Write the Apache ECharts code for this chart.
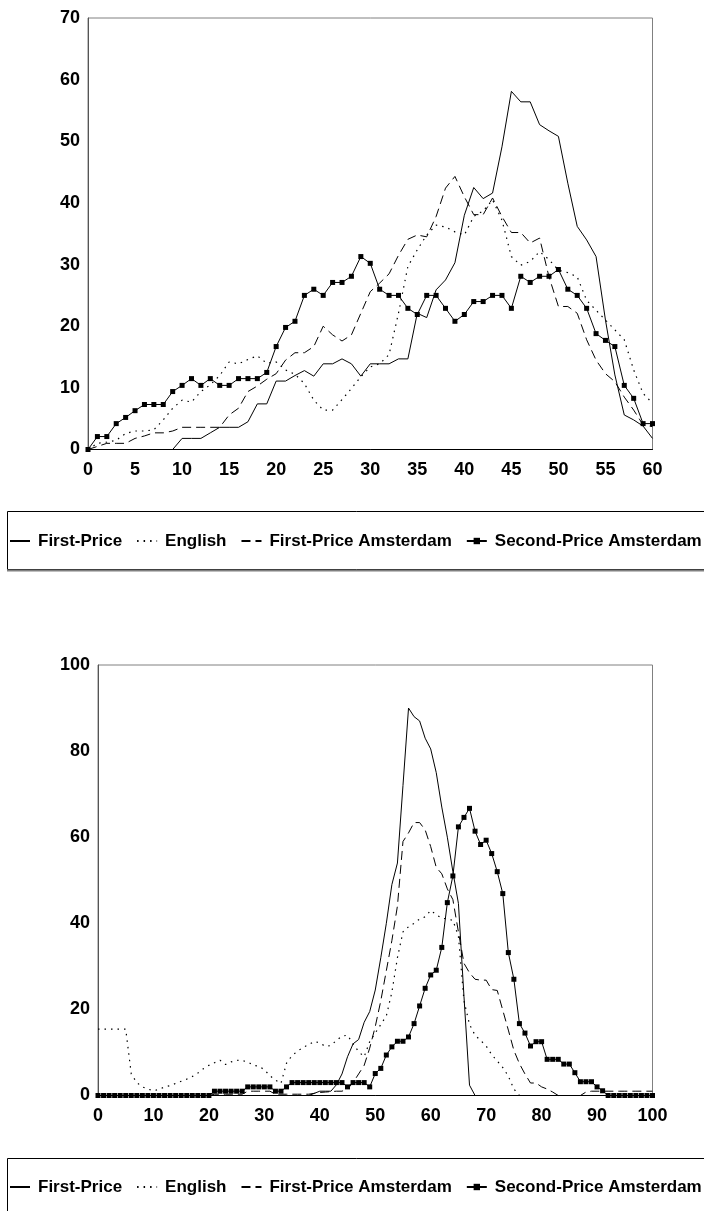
<!DOCTYPE html>
<html>
<head>
<meta charset="utf-8">
<title>Auction prices</title>
<script src="https://cdn.jsdelivr.net/npm/echarts@6.0.0/dist/echarts.min.js"></script>
<style>
  html, body { margin: 0; padding: 0; background: #fff; }
  #main { width: 704px; height: 1211px; }
</style>
</head>
<body>
<div id="main"></div>
<script>
// series names (shared by both panels)
const seriesNames = ['First-Price', 'English', 'First-Price Amsterdam', 'Second-Price Amsterdam']

// top panel: x = 0..60
const topFirstPrice = [
  0, 0, 0, 0, 0, 0, 0, 0, 0, 0,
  1.8, 1.8, 1.8, 2.7, 3.6, 3.6, 3.6, 4.5, 7.4, 7.4,
  11.1, 11.1, 12.0, 12.8, 11.9, 13.9, 13.9, 14.7, 13.9, 11.9,
  13.9, 13.9, 13.9, 14.7, 14.7, 22.1, 21.4, 25.9, 27.5, 30.3,
  38.0, 42.5, 40.7, 41.6, 49.1, 58.1, 56.4, 56.4, 52.7, 51.7,
  50.8, 43.2, 36.2, 34.0, 31.3, 21.0, 12.1, 5.6, 4.8, 3.8,
  1.8,
]
const topEnglish = [
  0, 1.0, 1.2, 1.5, 2.6, 3.0, 3.0, 3.2, 4.8, 6.7,
  8.0, 7.7, 9.4, 10.5, 12.0, 14.2, 13.9, 14.6, 15.2, 14.0,
  14.2, 12.9, 12.2, 10.7, 8.0, 6.4, 6.4, 8.1, 9.9, 11.8,
  13.4, 13.9, 15.4, 22.1, 29.7, 32.4, 34.8, 36.4, 36.1, 35.3,
  34.8, 37.8, 38.7, 40.5, 37.2, 31.3, 29.9, 30.5, 32.1, 30.8,
  29.1, 28.7, 28.0, 24.2, 22.6, 21.0, 19.4, 17.8, 12.9, 9.1,
  7.5,
]
const topFirstPriceAms = [
  0, 0.5, 1.0, 1.0, 1.0, 1.8, 2.2, 2.7, 2.7, 3.0,
  3.6, 3.6, 3.6, 3.6, 3.6, 5.6, 6.7, 9.4, 10.3, 11.4,
  12.3, 14.5, 15.7, 15.7, 16.7, 20.0, 18.6, 17.6, 18.6, 22.1,
  25.6, 27.0, 28.5, 31.5, 34.1, 34.8, 34.5, 37.8, 42.4, 44.3,
  41.0, 38.1, 38.1, 40.8, 37.8, 35.2, 35.2, 33.5, 34.3, 28.0,
  23.2, 23.2, 22.1, 17.8, 14.5, 12.3, 11.0, 8.5, 6.4, 4.0,
  3.7,
]
const topSecondPriceAms = [
  0, 2.1, 2.1, 4.2, 5.2, 6.3, 7.3, 7.3, 7.3, 9.4,
  10.4, 11.5, 10.4, 11.5, 10.4, 10.4, 11.5, 11.5, 11.5, 12.5,
  16.7, 19.8, 20.8, 25.0, 26.0, 25.0, 27.1, 27.1, 28.1, 31.3,
  30.2, 26.0, 25.0, 25.0, 22.9, 21.9, 25.0, 25.0, 22.9, 20.8,
  21.9, 24.0, 24.0, 25.0, 25.0, 22.9, 28.1, 27.1, 28.1, 28.1,
  29.2, 26.0, 25.0, 22.9, 18.8, 17.7, 16.7, 10.4, 8.3, 4.2,
  4.2,
]

// bottom panel: x = 0..100
const botFirstPrice = [
  0, 0, 0, 0, 0, 0, 0, 0, 0, 0,
  0, 0, 0, 0, 0, 0, 0, 0, 0, 0,
  0, 0, 0, 0, 0, 0, 0, 0, 0, 0,
  0, 0, 0, 0, 0, 0, 0, 0, 0, 0.5,
  1, 1, 1, 2.5, 5, 9, 12, 13, 17, 19.5,
  24.5, 32, 40, 49, 54, 72, 90, 88, 87, 83,
  80.5, 75, 67, 60, 52, 44.6, 23, 2.4, 0, 0,
  0, 0, 0, 0, 0, 0, 0, 0, 0, 0,
  0, 0, 0, 0, 0, 0, 0, 0, 0, 0,
  0, 0, 0, 0, 0, 0, 0, 0, 0, 0,
  0,
]
const botEnglish = [
  15.4, 15.4, 15.4, 15.4, 15.4, 15.4, 5, 3, 2, 1.5,
  1.1, 1.4, 2, 2.3, 2.8, 3.3, 3.8, 4.4, 5.2, 6.2,
  7, 7.6, 8.2, 7.2, 7.8, 8.2, 8.1, 7.8, 7, 6.8,
  6, 4.6, 3.6, 2.8, 7.5, 9.3, 10.3, 11.2, 11.8, 12.6,
  12.2, 11.4, 11.6, 12.8, 13.8, 14, 12, 10.2, 9, 12.5,
  14.5, 16.5, 18.5, 24, 32, 38, 39.2, 40, 41, 41.5,
  43, 42, 41.2, 41, 40.7, 37, 22, 16.5, 14, 12.8,
  11.5, 9.5, 8, 6.5, 4.5, 1.5, 0, 0, 0, 0,
  0, 0, 0, 0, 0, 0, 0, 0, 0, 0,
  0, 0, 0, 0, 0, 0, 0, 0, 0, 0,
  0,
]
const botFirstPriceAms = [
  0, 0, 0, 0, 0, 0, 0, 0, 0, 0,
  0, 0, 0, 0, 0, 0, 0, 0, 0, 0,
  0, 0.3, 0.3, 0.3, 0.3, 0.3, 0.3, 1, 1, 1,
  1, 1, 0.3, 0.3, 0.3, 0.3, 0.3, 0.3, 0.3, 0.5,
  0.7, 0.8, 0.9, 1, 1, 1.5, 3, 5, 7, 11,
  16, 22, 29, 36, 44, 59, 61, 63.4, 63.4, 61.7,
  57.8, 53, 51.5, 48, 45.5, 38, 30.7, 28.5, 27, 26.8,
  26.8, 24.6, 24.4, 19.8, 15.2, 10.5, 7.4, 5, 2.9, 2.9,
  2, 1.5, 0.8, 0, 0, 0, 0, 0, 0.8, 1,
  1, 1, 1, 1, 1, 1, 1, 1, 1, 1,
  1,
]
const botSecondPriceAms = [
  0, 0, 0, 0, 0, 0, 0, 0, 0, 0,
  0, 0, 0, 0, 0, 0, 0, 0, 0, 0,
  0, 1, 1, 1, 1, 1, 1, 2, 2, 2,
  2, 2, 1, 1, 2, 3, 3, 3, 3, 3,
  3, 3, 3, 3, 3, 2, 3, 3, 3, 2,
  5.1, 6.3, 9.4, 11.3, 12.6, 12.6, 13.6, 16.7, 20.8, 24.9,
  28, 29.1, 34.4, 44.8, 51, 62.4, 64.6, 66.7, 61.4, 58.3,
  59.3, 56.2, 52, 46.9, 33.2, 27, 16.7, 14.5, 11.5, 12.5,
  12.5, 8.4, 8.4, 8.4, 7.3, 7.3, 5.3, 3.2, 3.2, 3.2,
  2, 1.1, 0, 0, 0, 0, 0, 0, 0, 0,
  0,
]

const FONT = '"Liberation Sans", Arial, Helvetica, sans-serif'

const chart = echarts.init(document.getElementById('main'), null, { renderer: 'canvas' })

function pairs(arr) {
  return arr.map((v, i) => [i, v])
}

// line look for each of the four series
const looks = [
  { lineStyle: { color: '#000', width: 1, type: 'solid' }, symbol: 'none' },
  { lineStyle: { color: '#000', width: 1.2, type: [1.5, 5] }, symbol: 'none' },
  { lineStyle: { color: '#000', width: 1, type: [9, 5] }, symbol: 'none' },
  { lineStyle: { color: '#000', width: 1 }, symbol: 'rect', symbolSize: 5 },
]

function makeSeries(dataSets, axisIndex) {
  return dataSets.map((arr, i) => Object.assign({
    name: seriesNames[i],
    type: 'line',
    xAxisIndex: axisIndex,
    yAxisIndex: axisIndex,
    data: pairs(arr),
    color: '#000',
    itemStyle: { color: '#000' },
    showAllSymbol: true,
    clip: false,
    silent: true,
    z: 2 + i,
  }, looks[i]))
}

const labelStyle = { color: '#000', fontSize: 18, fontWeight: 'bold', fontFamily: FONT }

function xAxis(gridIndex, max, interval) {
  return {
    type: 'value', gridIndex: gridIndex, min: 0, max: max, interval: interval,
    axisLine: { show: true, lineStyle: { color: '#000', width: 1 } },
    axisTick: { show: false },
    splitLine: { show: false },
    axisLabel: Object.assign({ margin: 12 }, labelStyle),
  }
}

function yAxis(gridIndex, max, interval) {
  return {
    type: 'value', gridIndex: gridIndex, min: 0, max: max, interval: interval,
    axisLine: { show: true, lineStyle: { color: '#555', width: 1 } },
    axisTick: { show: false },
    splitLine: { show: false },
    axisLabel: Object.assign({ margin: 8 }, labelStyle),
  }
}

function legend(top) {
  return {
    // only the marker series keeps its symbol in the key
    data: seriesNames.map((name, i) => (i < 3 ? { name: name, itemStyle: { opacity: 0 } } : { name: name })),
    left: 9, top: top,
    orient: 'horizontal',
    padding: 0,
    itemGap: 14,
    itemWidth: 20,
    itemHeight: 8,
    selectedMode: false,
    textStyle: { color: '#000', fontSize: 17, fontWeight: 'bold', fontFamily: FONT, lineHeight: 22, padding: [0, 0, 0, 3] },
  }
}

const option = {
  animation: false,
  backgroundColor: '#fff',
  grid: [
    { left: 88, top: 18, width: 564.5, height: 431.5, show: true, borderColor: '#808080', borderWidth: 1, containLabel: false },
    { left: 98, top: 665, width: 554.5, height: 430.5, show: true, borderColor: '#808080', borderWidth: 1, containLabel: false },
  ],
  xAxis: [xAxis(0, 60, 5), xAxis(1, 100, 10)],
  yAxis: [yAxis(0, 70, 10), yAxis(1, 100, 20)],
  legend: [legend(530), legend(1176)],
  // legend frames
  graphic: [
    { type: 'rect', shape: { x: 7.5, y: 511.5, width: 720, height: 58 }, style: { fill: 'none', stroke: '#000', lineWidth: 1 }, silent: true },
    { type: 'line', shape: { x1: 7, y1: 570.5, x2: 704, y2: 570.5 }, style: { stroke: '#808080', lineWidth: 2 }, silent: true },
    { type: 'rect', shape: { x: 7.5, y: 1158.5, width: 720, height: 80 }, style: { fill: 'none', stroke: '#000', lineWidth: 1 }, silent: true },
  ],
  series: makeSeries([topFirstPrice, topEnglish, topFirstPriceAms, topSecondPriceAms], 0)
    .concat(makeSeries([botFirstPrice, botEnglish, botFirstPriceAms, botSecondPriceAms], 1)),
}

chart.setOption(option)
</script>
</body>
</html>
